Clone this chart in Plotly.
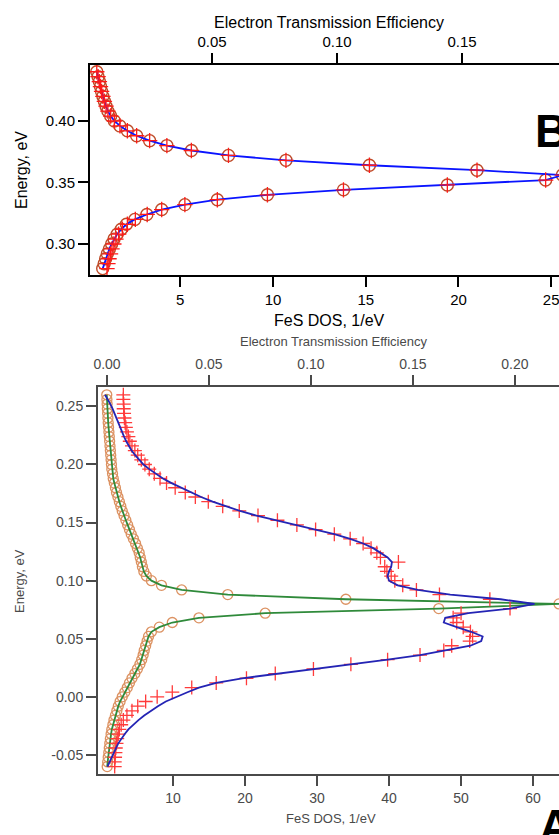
import plotly.graph_objects as go

W, H = 559, 835

# ---------------- Panel B data ----------------
b_energy = [0.280, 0.284, 0.288, 0.292, 0.296, 0.300, 0.304, 0.308, 0.312, 0.316,
            0.320, 0.324, 0.328, 0.332, 0.336, 0.340, 0.344, 0.348, 0.352, 0.356,
            0.360, 0.364, 0.368, 0.372, 0.376, 0.380, 0.384, 0.388, 0.392, 0.396,
            0.400, 0.404, 0.408, 0.412, 0.416, 0.420, 0.424, 0.428, 0.432, 0.436, 0.440]
b_dos_circles = [0.82, 0.90, 0.98, 1.07, 1.18, 1.30, 1.43, 1.60, 1.82, 2.10,
                 2.55, 3.20, 4.00, 5.25, 7.00, 9.70, 13.8, 19.4, 24.7, 25.6,
                 21.0, 15.2, 10.7, 7.60, 5.60, 4.28, 3.35, 2.65, 2.15, 1.75,
                 1.45, 1.25, 1.10, 1.00, 0.91, 0.83, 0.76, 0.70, 0.64, 0.57, 0.50]
b_dos_plus = [1.05, 1.10, 1.16, 1.24, 1.32, 1.42, 1.53, 1.68, 1.88, 2.15,
              2.58, 3.22, 4.00, 5.25, 7.00, 9.70, 13.8, 19.4, 24.7, 25.6,
              21.0, 15.2, 10.7, 7.60, 5.60, 4.28, 3.35, 2.65, 2.15, 1.75,
              1.45, 1.25, 1.10, 1.00, 0.91, 0.83, 0.76, 0.70, 0.64, 0.57, 0.50]

# ---------------- Panel A data ----------------
a_energy = [0.260, 0.256, 0.252, 0.248, 0.244, 0.240, 0.236, 0.232, 0.228, 0.224,
            0.220, 0.216, 0.212, 0.208, 0.204, 0.200, 0.196, 0.192, 0.188, 0.184,
            0.180, 0.176, 0.172, 0.168, 0.164, 0.160, 0.156, 0.152, 0.148, 0.144,
            0.140, 0.136, 0.132, 0.128, 0.124, 0.120, 0.116, 0.112, 0.108, 0.104,
            0.100, 0.096, 0.092, 0.088, 0.084, 0.080, 0.076, 0.072, 0.068, 0.064,
            0.060, 0.056, 0.052, 0.048, 0.044, 0.040, 0.036, 0.032, 0.028, 0.024,
            0.020, 0.016, 0.012, 0.008, 0.004, 0.000, -0.004, -0.008, -0.012, -0.016,
            -0.020, -0.024, -0.028, -0.032, -0.036, -0.040, -0.044, -0.048, -0.052, -0.056,
            -0.060]
# circles (green fitted line passes through them)
a_dos_circles = [0.80, 0.82, 0.85, 0.88, 0.92, 0.96, 1.00, 1.05, 1.10, 1.15,
                 1.20, 1.25, 1.30, 1.35, 1.40, 1.45, 1.50, 1.60, 1.70, 1.85,
                 2.00, 2.15, 2.35, 2.55, 2.75, 2.95, 3.20, 3.45, 3.70, 3.95,
                 4.20, 4.50, 4.80, 5.05, 5.30, 5.45, 5.60, 5.75, 5.95, 6.30,
                 7.00, 8.40, 11.2, 17.6, 34.0, 63.6, 46.9, 22.8, 13.6, 9.90,
                 8.10, 7.00, 6.60, 6.40, 6.20, 6.00, 5.85, 5.65, 5.40, 5.05,
                 4.70, 4.30, 3.95, 3.65, 3.30, 2.95, 2.65, 2.40, 2.20, 2.00,
                 1.80, 1.65, 1.50, 1.40, 1.30, 1.22, 1.15, 1.08, 1.00, 0.93,
                 0.86]
# red crosses
a_dos_plus = [3.10, 3.10, 3.15, 3.15, 3.20, 3.25, 3.35, 3.45, 3.60, 3.80,
              4.00, 4.30, 4.70, 5.10, 5.60, 6.10, 6.70, 7.40, 8.20, 9.10,
              10.3, 11.7, 13.1, 14.9, 16.9, 19.2, 21.8, 24.5, 27.2, 29.8,
              32.4, 34.6, 36.4, 37.5, 38.3, 38.8, 41.3, 39.4, 39.7, 40.3,
              40.8, 41.9, 43.8, 47.0, 54.0, 66.0, 56.8, 50.0, 48.9, 49.4,
              50.3, 51.3, 51.6, 51.2, 48.7, 47.6, 44.3, 39.8, 34.7, 29.5,
              24.2, 20.2, 16.0, 12.6, 9.90, 7.80, 6.20, 5.10, 4.30, 3.60,
              3.10, 2.80, 2.55, 2.40, 2.25, 2.15, 2.05, 2.00, 1.95, 1.90,
              1.90]
# blue fitted line
a_dos_blue = [0.55, 0.95, 1.30, 1.60, 1.85, 2.10, 2.40, 2.70, 2.95, 3.20,
              3.50, 3.85, 4.25, 4.75, 5.30, 5.90, 6.70, 7.60, 8.60, 9.80,
              11.1, 12.4, 13.9, 15.5, 17.3, 19.3, 21.6, 24.3, 27.1, 29.8,
              32.4, 34.6, 36.4, 37.8, 38.9, 39.8, 40.4, 40.3, 40.0, 39.8,
              40.0, 41.2, 44.0, 48.5, 55.5, 60.2, 56.8, 51.0, 47.8, 47.6,
              49.4, 51.4, 53.0, 52.8, 51.3, 47.9, 44.3, 39.8, 34.8, 29.5,
              24.2, 19.6, 16.0, 13.6, 12.0, 10.4, 9.00, 7.90, 6.90, 6.00,
              5.20, 4.50, 3.80, 3.30, 2.80, 2.40, 2.10, 1.80, 1.50, 1.20,
              0.90]

# tick labels
b_dos_ticks = [5, 10, 15, 20, 25]
b_eff_ticks = [0.05, 0.10, 0.15]
b_e_ticks = [0.30, 0.35, 0.40]
a_dos_ticks = [10, 20, 30, 40, 50, 60]
a_eff_ticks = [0.00, 0.05, 0.10, 0.15, 0.20]
a_e_ticks = [-0.05, 0.00, 0.05, 0.10, 0.15, 0.20, 0.25]


def px(x):
    return x / W


def py(y):
    return 1 - y / H


FONT = "Liberation Sans, Arial, sans-serif"
GREY = "#4a4a4a"

fig = go.Figure()

# ----- Panel B traces -----
fig.add_trace(go.Scatter(x=b_dos_circles, y=b_energy, mode="markers",
                         marker=dict(symbol="circle-open", size=12, color="#bf4b28",
                                     line=dict(width=1.4, color="#bf4b28")),
                         xaxis="x", yaxis="y", showlegend=False))
fig.add_trace(go.Scatter(x=b_dos_circles, y=b_energy, mode="lines",
                         line=dict(color="#0a14ff", width=1.8),
                         xaxis="x", yaxis="y", showlegend=False))
fig.add_trace(go.Scatter(x=b_dos_plus, y=b_energy, mode="markers",
                         marker=dict(symbol="cross-thin-open", size=11, color="#ff1a1a",
                                     line=dict(width=1.3, color="#ff1a1a")),
                         xaxis="x", yaxis="y", showlegend=False))
# invisible helper so the top (efficiency) axis of panel B is drawn
fig.add_trace(go.Scatter(x=b_eff_ticks, y=[b_energy[0]] * len(b_eff_ticks), mode="markers",
                         marker=dict(opacity=0, size=1), hoverinfo="skip",
                         xaxis="x2", yaxis="y", showlegend=False))

# ----- Panel A traces -----
fig.add_trace(go.Scatter(x=a_dos_circles, y=a_energy, mode="markers",
                         marker=dict(symbol="circle-open", size=10, color="#dc9262",
                                     line=dict(width=1.3, color="#dc9262")),
                         xaxis="x3", yaxis="y2", showlegend=False))
fig.add_trace(go.Scatter(x=a_dos_circles, y=a_energy, mode="lines",
                         line=dict(color="#2f8a3a", width=1.8),
                         xaxis="x3", yaxis="y2", showlegend=False))
fig.add_trace(go.Scatter(x=a_dos_plus, y=a_energy, mode="markers",
                         marker=dict(symbol="cross-thin-open", size=10, color="#ff3b3b",
                                     line=dict(width=1.3, color="#ff3b3b")),
                         xaxis="x3", yaxis="y2", showlegend=False))
fig.add_trace(go.Scatter(x=a_dos_blue, y=a_energy, mode="lines",
                         line=dict(color="#2424b4", width=1.8),
                         xaxis="x3", yaxis="y2", showlegend=False))
# invisible helper so the top (efficiency) axis of panel A is drawn
fig.add_trace(go.Scatter(x=a_eff_ticks, y=[a_energy[0]] * len(a_eff_ticks), mode="markers",
                         marker=dict(opacity=0, size=1), hoverinfo="skip",
                         xaxis="x4", yaxis="y2", showlegend=False))

common_b = dict(showgrid=False, zeroline=False, showline=True, linecolor="black",
                linewidth=2, ticks="outside", ticklen=10, tickwidth=1.5,
                tickcolor="black", automargin=False, ticklabeloverflow="allow",
                tickfont=dict(family=FONT, size=15, color="black"))
common_a = dict(showgrid=False, zeroline=False, showline=True, linecolor=GREY,
                linewidth=2, ticks="outside", ticklen=10, tickwidth=1.5,
                tickcolor=GREY, automargin=False, ticklabeloverflow="allow",
                tickfont=dict(family=FONT, size=14, color=GREY))

fig.update_layout(
    width=W, height=H,
    margin=dict(l=0, r=0, t=0, b=0),
    paper_bgcolor="white", plot_bgcolor="white",
    font=dict(family=FONT),
    xaxis=dict(domain=[px(90), 1], anchor="y", range=[0.135, 25.42],
               tickvals=b_dos_ticks, ticktext=[str(v) for v in b_dos_ticks], **common_b),
    xaxis2=dict(overlaying="x", side="top", anchor="y", range=[0.0012, 0.1888],
                tickvals=b_eff_ticks, ticktext=[f"{v:.2f}" for v in b_eff_ticks], **common_b),
    yaxis=dict(domain=[py(275), py(65)], anchor="x", range=[0.2748, 0.4455],
               tickvals=b_e_ticks, ticktext=[f"{v:.2f}" for v in b_e_ticks], **common_b),
    xaxis3=dict(domain=[px(98), 1], anchor="y2", range=[-0.417, 63.6],
                tickvals=a_dos_ticks, ticktext=[str(v) for v in a_dos_ticks], **common_a),
    xaxis4=dict(overlaying="x3", side="top", anchor="y2", range=[-0.00441, 0.2216],
                tickvals=a_eff_ticks, ticktext=[f"{v:.2f}" for v in a_eff_ticks], **common_a),
    yaxis2=dict(domain=[py(774), py(387)], anchor="x3", range=[-0.0664, 0.2667],
                tickvals=a_e_ticks, ticktext=[f"{v:.2f}" for v in a_e_ticks], **common_a),
)

ann = [
    dict(text="Electron Transmission Efficiency", x=px(329), y=py(22), size=16, color="black", angle=0),
    dict(text="Energy, eV", x=px(21), y=py(170), size=16, color="black", angle=-90),
    dict(text="FeS DOS, 1/eV", x=px(329), y=py(320), size=16, color="black", angle=0),
    dict(text="Electron Transmission Efficiency", x=px(333), y=py(342), size=13, color=GREY, angle=0),
    dict(text="Energy, eV", x=px(19), y=py(581), size=13, color=GREY, angle=-90),
    dict(text="FeS DOS, 1/eV", x=px(331), y=py(818), size=13, color=GREY, angle=0),
]
for a in ann:
    fig.add_annotation(text=a["text"], x=a["x"], y=a["y"], xref="paper", yref="paper",
                       showarrow=False, xanchor="center", yanchor="middle",
                       textangle=a["angle"],
                       font=dict(family=FONT, size=a["size"], color=a["color"]))

fig.add_annotation(text="<b>B</b>", x=px(533), y=py(131), xref="paper", yref="paper",
                   showarrow=False, xanchor="left", yanchor="middle",
                   font=dict(family=FONT, size=46, color="black"))
fig.add_annotation(text="<b>A</b>", x=px(537), y=py(798), xref="paper", yref="paper",
                   showarrow=False, xanchor="left", yanchor="top",
                   font=dict(family=FONT, size=46, color="black"))

fig.write_html("out.html")
